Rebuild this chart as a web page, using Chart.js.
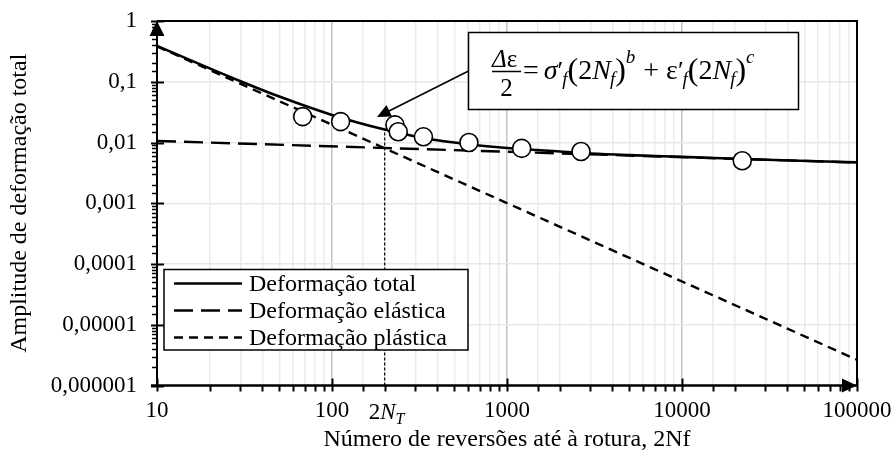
<!DOCTYPE html>
<html><head><meta charset="utf-8">
<script src="https://cdn.jsdelivr.net/npm/chart.js@4.4.1/dist/chart.umd.min.js"></script>
<style>html,body{margin:0;padding:0;background:#fff;}#wrap{width:893px;height:454px;position:relative;}</style>
</head><body><div id="wrap"><canvas id="c" width="893" height="454"></canvas></div>
<script>
// ---- data ----
const yTickLabels = ['0,000001','0,00001','0,0001','0,001','0,01','0,1','1']; // exponents -6..0
const xTickLabels = ['10','100','1000','10000','100000'];                      // exponents 1..5
const xTitle = 'Número de reversões até à rotura, 2Nf';
const yTitle = 'Amplitude de deformação total';
const legendLabels = ['Deformação total','Deformação elástica','Deformação plástica'];

const totalN      = [10, 20, 30, 50, 100, 200, 300, 500, 1000, 2000, 3000, 5000, 10000, 30000, 100000];
const totalStrain = [0.39, 0.166, 0.102, 0.057, 0.0284, 0.0163, 0.0126, 0.0100, 0.0081, 0.0071, 0.0066, 0.0062, 0.0058, 0.0052, 0.0047];
const elasticN      = [10, 100000];
const elasticStrain = [0.0106, 0.00468];
const plasticN      = [10, 100000];
const plasticStrain = [0.382, 0.00000265];
const testN      = [68, 112, 229, 239, 333, 606, 1213, 2648, 22100];
const testStrain = [0.0267, 0.0221, 0.0195, 0.0150, 0.0124, 0.0100, 0.0080, 0.0071, 0.0050];
const transitionN      = [200, 200];
const transitionStrain = [0.000001, 0.0163];

const FONT = '"Liberation Serif", "Times New Roman", serif';
const pts = (xs, ys) => xs.map((v, i) => ({x: v, y: ys[i]}));
const isPow10 = v => Math.abs(Math.log10(v) - Math.round(Math.log10(v))) < 1e-9;

function drawRuns(ctx, runs, x, base) {
  for (const r of runs) {
    ctx.font = (r.i ? 'italic ' : '') + r.s + 'px ' + FONT;
    ctx.fillText(r.t, x, base + (r.dy || 0));
    x += ctx.measureText(r.t).width + (r.g || 0);
  }
  return x;
}

const decor = {
  id: 'decor',
  afterDatasetsDraw(chart) {
    const {ctx, chartArea: a, scales: {x, y}} = chart;
    ctx.save();
    ctx.strokeStyle = '#000'; ctx.fillStyle = '#000';
    // borders / axes
    ctx.lineWidth = 2;
    ctx.beginPath(); ctx.moveTo(a.left, a.top); ctx.lineTo(a.right, a.top); ctx.lineTo(a.right, a.bottom); ctx.stroke();
    ctx.beginPath(); ctx.moveTo(a.left, a.bottom); ctx.lineTo(a.left, a.top); ctx.stroke();
    ctx.lineWidth = 2.5;
    ctx.beginPath(); ctx.moveTo(a.left - 6, a.bottom); ctx.lineTo(a.right, a.bottom); ctx.stroke();
    // y ticks
    y.ticks.forEach(t => {
      const py = Math.round(y.getPixelForValue(t.value)) + 0.5;
      const major = isPow10(t.value);
      ctx.lineWidth = major ? 2 : 1.5;
      ctx.beginPath(); ctx.moveTo(a.left - (major ? 6 : 5), py); ctx.lineTo(a.left + (major ? 7 : 1), py); ctx.stroke();
    });
    // x ticks
    x.ticks.forEach(t => {
      const px = Math.round(x.getPixelForValue(t.value)) + 0.5;
      const major = isPow10(t.value);
      ctx.lineWidth = 2;
      ctx.beginPath(); ctx.moveTo(px, a.bottom - (major ? 7 : 0)); ctx.lineTo(px, a.bottom + 6); ctx.stroke();
    });
    // arrowheads on axes
    ctx.beginPath(); ctx.moveTo(a.left, a.top); ctx.lineTo(a.left - 7.5, a.top + 15); ctx.lineTo(a.left + 7.5, a.top + 15); ctx.closePath(); ctx.fill();
    ctx.beginPath(); ctx.moveTo(a.right, a.bottom); ctx.lineTo(a.right - 15, a.bottom - 7); ctx.lineTo(a.right - 15, a.bottom + 7); ctx.closePath(); ctx.fill();

    // 2N_T label under the transition line
    const pxT = x.getPixelForValue(transitionN[0]);
    ctx.textBaseline = 'alphabetic'; ctx.textAlign = 'left';
    drawRuns(ctx, [{t:'2', s:23}, {t:'N', s:23, i:true, g:0}, {t:'T', s:16, i:true, dy:5}], pxT - 16, 419);

    // legend
    const lx = 164, ly = 269.5, lw = 304, lh = 80.5;
    ctx.fillStyle = '#fff'; ctx.fillRect(lx, ly, lw, lh);
    ctx.lineWidth = 1.5; ctx.strokeRect(lx, ly, lw, lh);
    ctx.fillStyle = '#000';
    ctx.font = '24px ' + FONT; ctx.textBaseline = 'middle';
    const rows = [283.5, 310.5, 337.5];
    [1, 2, 3].forEach((di, k) => {
      const ds = chart.data.datasets[di];
      ctx.save();
      ctx.lineWidth = ds.borderWidth; ctx.setLineDash(ds.borderDash || []);
      ctx.beginPath(); ctx.moveTo(174, rows[k]); ctx.lineTo(242, rows[k]); ctx.stroke();
      ctx.restore();
      ctx.fillText(ds.label, 249, rows[k] + 1);
    });

    // equation annotation: arrow + box
    ctx.lineWidth = 1.5;
    const tip = {x: 377, y: 117};
    ctx.beginPath(); ctx.moveTo(468.5, 71); ctx.lineTo(389, 111); ctx.stroke();
    ctx.beginPath(); ctx.moveTo(tip.x, tip.y); ctx.lineTo(392, 116.5); ctx.lineTo(386.5, 105); ctx.closePath(); ctx.fill();
    ctx.fillStyle = '#fff'; ctx.fillRect(468.5, 32.5, 330, 77);
    ctx.strokeRect(468.5, 32.5, 330, 77);
    ctx.fillStyle = '#000';
    ctx.textBaseline = 'alphabetic'; ctx.textAlign = 'left';
    drawRuns(ctx, [{t:'Δ', s:25, i:true}, {t:'ε', s:25}], 492, 67);
    ctx.lineWidth = 1.5;
    ctx.beginPath(); ctx.moveTo(492, 71.5); ctx.lineTo(521, 71.5); ctx.stroke();
    ctx.textAlign = 'center'; ctx.font = '25px ' + FONT; ctx.fillText('2', 506.5, 96);
    ctx.textAlign = 'left';
    const grp = (g, gi, e) => [
      {t:g, s:28, i:gi}, {t:'′', s:26, g:-1}, {t:'f', s:19, i:true, dy:6, g:0},
      {t:'(', s:32, dy:1}, {t:'2', s:28}, {t:'N', s:28, i:true, g:-1}, {t:'f', s:19, i:true, dy:6, g:0},
      {t:')', s:32, dy:1}, {t:e, s:19, i:true, dy:-16}
    ];
    let cx = drawRuns(ctx, [{t:'=', s:28, g:5}], 523, 79);
    cx = drawRuns(ctx, grp('σ', true, 'b'), cx, 79);
    cx = drawRuns(ctx, [{t:'+', s:28}], cx + 8, 79);
    drawRuns(ctx, grp('ε', false, 'c'), cx + 7, 79);
    ctx.restore();
  }
};

new Chart(document.getElementById('c'), {
  type: 'scatter',
  data: { datasets: [
    { label: 'Ensaios', data: pts(testN, testStrain), showLine: false, pointRadius: 9, pointHoverRadius: 9,
      pointBackgroundColor: '#fff', pointBorderColor: '#000', pointBorderWidth: 1.6, order: 0 },
    { label: legendLabels[0], data: pts(totalN, totalStrain), showLine: true, borderColor: '#000', borderWidth: 2.6,
      pointRadius: 0, cubicInterpolationMode: 'monotone', order: 1 },
    { label: legendLabels[1], data: pts(elasticN, elasticStrain), showLine: true, borderColor: '#000', borderWidth: 2.4,
      borderDash: [19, 8], pointRadius: 0, order: 2 },
    { label: legendLabels[2], data: pts(plasticN, plasticStrain), showLine: true, borderColor: '#000', borderWidth: 2.4,
      borderDash: [9, 6], pointRadius: 0, order: 3 },
    { label: '2NT', data: pts(transitionN, transitionStrain), showLine: true, borderColor: '#000', borderWidth: 1.2,
      borderDash: [3, 2], pointRadius: 0, order: 4 }
  ]},
  options: {
    responsive: false, animation: false, devicePixelRatio: 1,
    layout: { padding: { top: 21, right: 36, bottom: 0, left: 0 } },
    plugins: { legend: { display: false }, tooltip: { enabled: false } },
    scales: {
      x: {
        type: 'logarithmic', min: 10, max: 100000, position: 'bottom',
        grid: { color: c => (c.tick && isPow10(c.tick.value)) ? '#c4c4c4' : '#ebebeb', lineWidth: 1.5, drawTicks: false },
        border: { display: false },
        ticks: { autoSkip: false, maxRotation: 0, padding: 12, color: '#000', font: { family: FONT, size: 23 },
          callback: v => isPow10(v) ? xTickLabels[Math.round(Math.log10(v)) - 1] : '' },
        title: { display: true, text: xTitle, color: '#000', font: { family: FONT, size: 24 }, padding: { top: 0, bottom: 0 } },
        afterFit(s) { s.height = 68.5; s.paddingLeft = 0; s.paddingRight = 0; }
      },
      y: {
        type: 'logarithmic', min: 0.000001, max: 1, position: 'left',
        grid: { color: c => (c.tick && isPow10(c.tick.value)) ? '#e8e8e8' : 'rgba(0,0,0,0)', lineWidth: 1.5, drawTicks: false },
        border: { display: false },
        ticks: { autoSkip: false, padding: 20, color: '#000', font: { family: FONT, size: 23 },
          callback: v => isPow10(v) ? yTickLabels[Math.round(Math.log10(v)) + 6] : '' },
        title: { display: true, text: yTitle, color: '#000', font: { family: FONT, size: 24 }, padding: { top: 5, bottom: 0 } },
        afterFit(s) { s.width = 157; s.paddingTop = 0; s.paddingBottom = 0; }
      }
    }
  },
  plugins: [decor]
});
</script></body></html>
